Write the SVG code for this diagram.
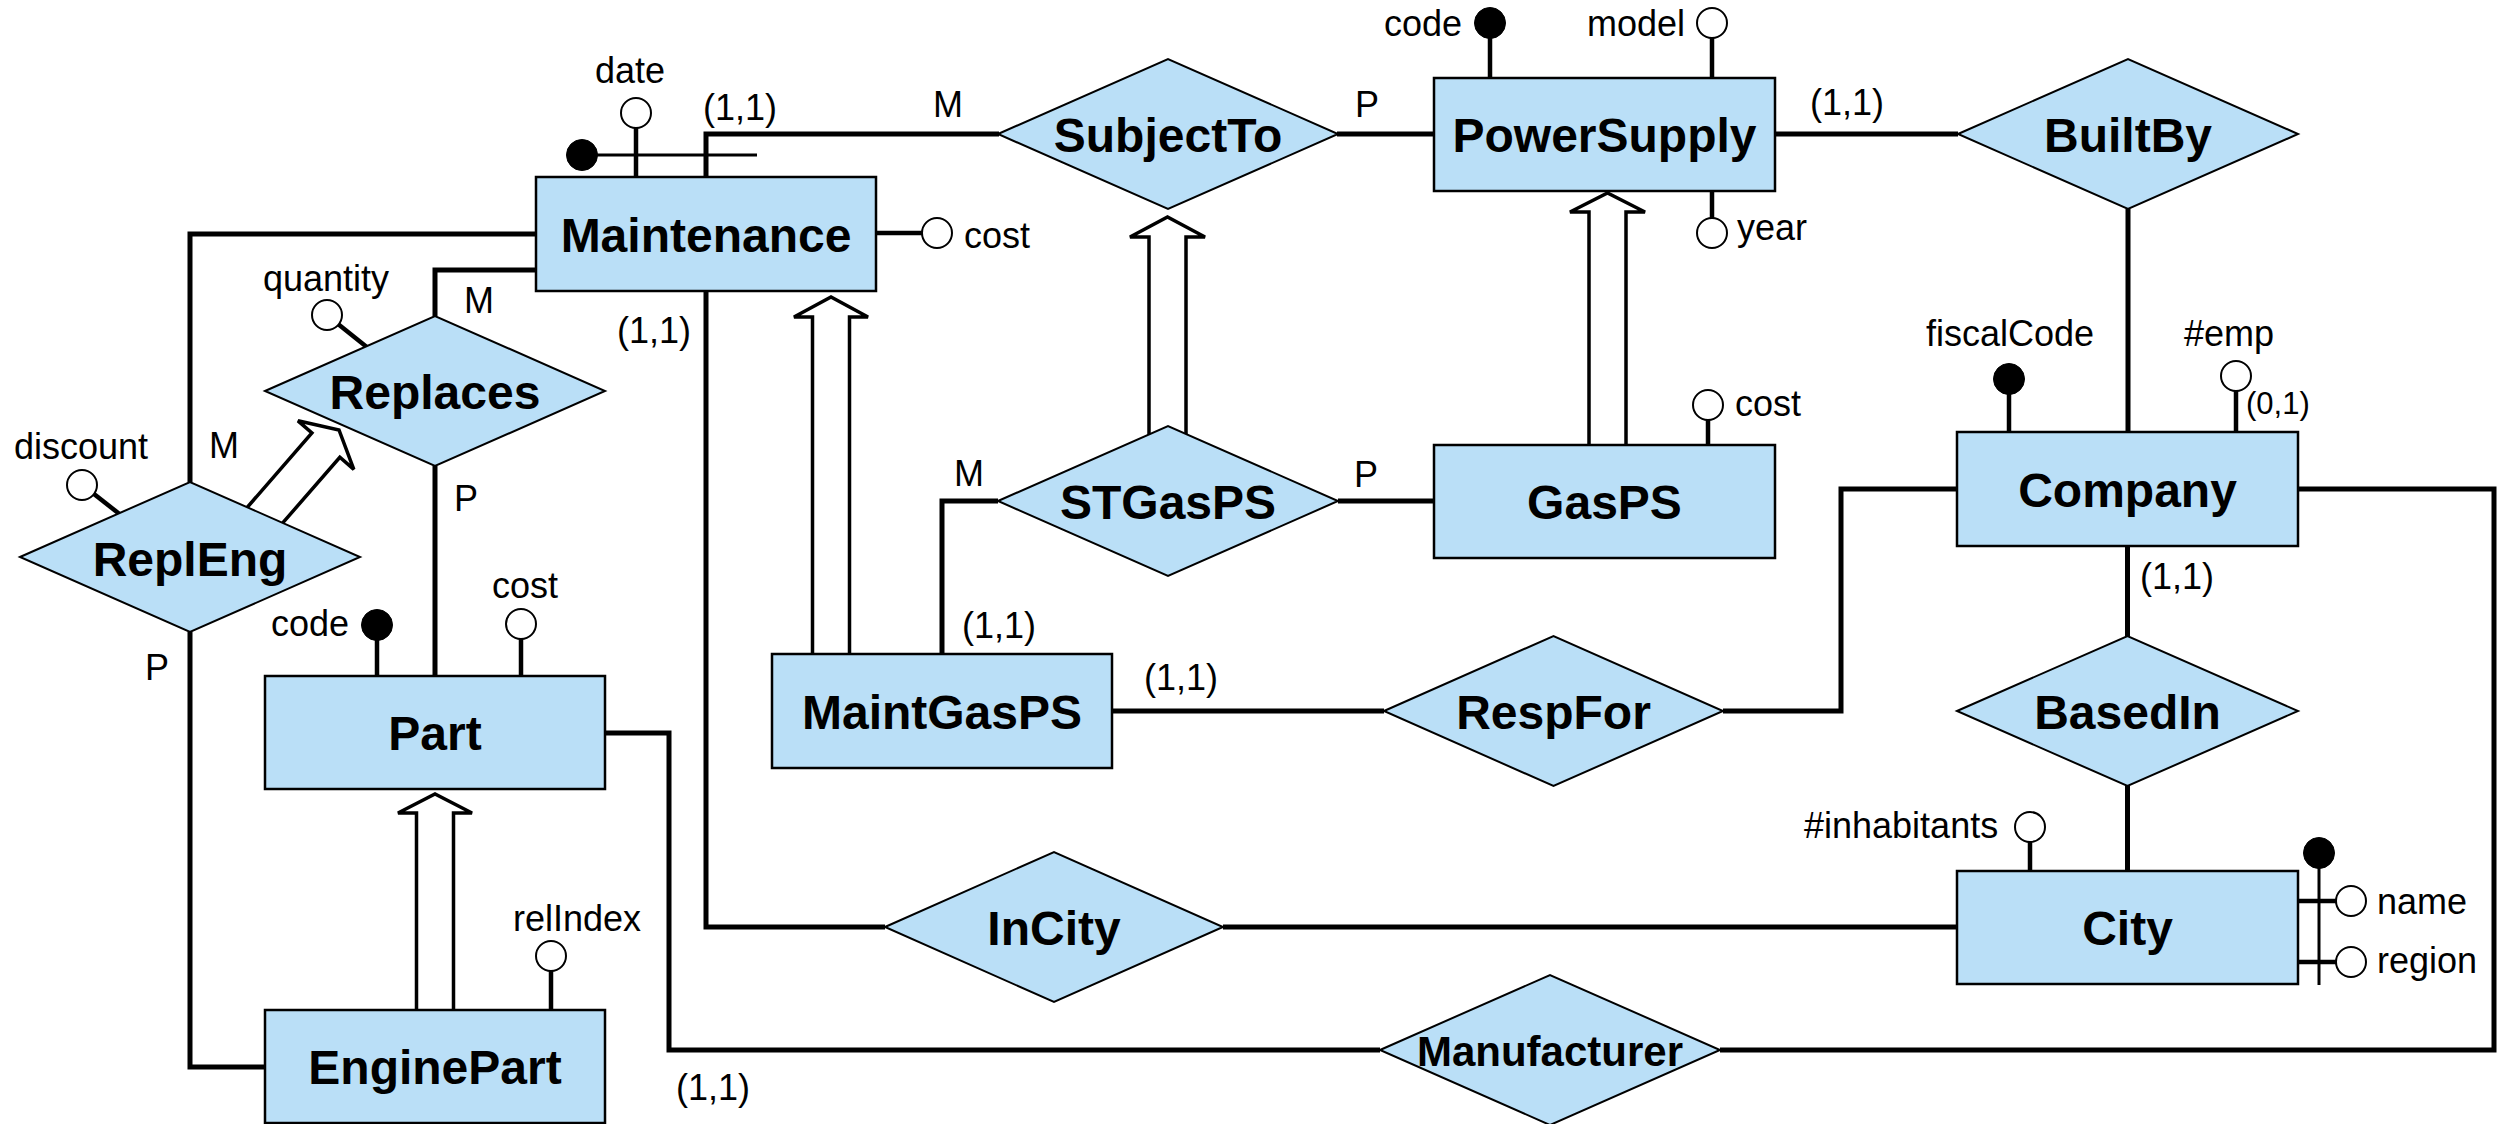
<svg xmlns="http://www.w3.org/2000/svg" width="2501" height="1124" viewBox="0 0 2501 1124">
<style>
.ent{fill:#BADFF7;stroke:#000;stroke-width:2.5}
.rel{fill:#BADFF7;stroke:#000;stroke-width:2}
.nm{font-family:"Liberation Sans",Arial,sans-serif;font-weight:bold;font-size:48px;text-anchor:middle;fill:#000}
.lb{font-family:"Liberation Sans",Arial,sans-serif;font-size:36px;fill:#000}
.conn{fill:none;stroke:#000;stroke-width:5}
.stem{fill:none;stroke:#000;stroke-width:4.5}
.thin{fill:none;stroke:#000;stroke-width:3}
.oc{fill:#fff;stroke:#000;stroke-width:2}
.fc{fill:#000;stroke:#000;stroke-width:1}
.isa{fill:none;stroke:#000;stroke-width:3.5;stroke-linejoin:miter}
</style>
<rect x="0" y="0" width="2501" height="1124" fill="#fff"/>
<g id="connectors">
<polyline class="conn" points="706,177 706,134 999,134"/>
<polyline class="conn" points="1337,134 1434,134"/>
<polyline class="conn" points="1775,134 1958,134"/>
<polyline class="conn" points="2128,209 2128,432"/>
<polyline class="conn" points="2127.5,546 2127.5,636"/>
<polyline class="conn" points="2127.5,786 2127.5,871"/>
<polyline class="conn" points="1957,489 1841,489 1841,711 1723,711"/>
<polyline class="conn" points="1384,711 1112,711"/>
<polyline class="conn" points="942,654 942,501 998,501"/>
<polyline class="conn" points="1338,501 1434,501"/>
<polyline class="conn" points="706,291 706,927 885,927"/>
<polyline class="conn" points="1223,927 1957,927"/>
<polyline class="conn" points="605,733 669,733 669,1050 1380,1050"/>
<polyline class="conn" points="1720,1050 2494,1050 2494,489 2298,489"/>
<polyline class="conn" points="536,270 435,270 435,316"/>
<polyline class="conn" points="435,466 435,676"/>
<polyline class="conn" points="536,234 190,234 190,482"/>
<polyline class="conn" points="190,632 190,1067 265,1067"/>
<polyline class="isa" points="812.5,654 812.5,317 794,317 831,297 868,317 849.5,317 849.5,654"/>
<polyline class="isa" points="1149,500 1149,237 1130,237 1167.5,217 1205,237 1186,237 1186,500"/>
<polyline class="isa" points="1589,445 1589,212 1570,212 1607.5,193 1645,212 1626,212 1626,445"/>
<polyline class="isa" points="416.5,1010 416.5,813 398,813 435,794 472,813 453.5,813 453.5,1010"/>
<polyline class="isa" transform="translate(339,430) rotate(41)" points="-18.5,125 -18.5,20 -37,20 0,0 37,20 18.5,20 18.5,125"/>
<text class="lb" x="703" y="120">(1,1)</text>
<text class="lb" x="933" y="117">M</text>
<text class="lb" x="1355" y="117">P</text>
<text class="lb" x="1810" y="115">(1,1)</text>
<text class="lb" x="617" y="343">(1,1)</text>
<text class="lb" x="464" y="313">M</text>
<text class="lb" x="209" y="458">M</text>
<text class="lb" x="454" y="511">P</text>
<text class="lb" x="145" y="680">P</text>
<text class="lb" x="954" y="486">M</text>
<text class="lb" x="1354" y="487">P</text>
<text class="lb" x="962" y="638">(1,1)</text>
<text class="lb" x="1144" y="690">(1,1)</text>
<text class="lb" x="2140" y="589">(1,1)</text>
<text class="lb" x="676" y="1100">(1,1)</text>
</g>
<g id="Maintenance">
<line class="stem" x1="636" y1="128" x2="636" y2="177"/>
<line class="thin" x1="582" y1="155" x2="757" y2="155"/>
<line class="stem" x1="876" y1="233" x2="922" y2="233"/>
<rect class="ent" x="536" y="177" width="340" height="114"/>
<text class="nm" x="706" y="252">Maintenance</text>
<circle class="fc" cx="582" cy="155" r="15.5"/>
<circle class="oc" cx="636" cy="113" r="15"/>
<circle class="oc" cx="937" cy="233" r="15"/>
<text class="lb" x="595" y="83">date</text>
<text class="lb" x="964" y="248">cost</text>
</g>
<g id="SubjectTo">
<polygon class="rel" points="998,134 1168,59 1338,134 1168,209"/>
<text class="nm" x="1168" y="152">SubjectTo</text>
</g>
<g id="PowerSupply">
<line class="stem" x1="1490" y1="38" x2="1490" y2="78"/>
<line class="stem" x1="1712" y1="38" x2="1712" y2="78"/>
<line class="stem" x1="1712" y1="191" x2="1712" y2="218"/>
<rect class="ent" x="1434" y="78" width="341" height="113"/>
<text class="nm" x="1604.5" y="152">PowerSupply</text>
<circle class="fc" cx="1490" cy="23" r="15.5"/>
<circle class="oc" cx="1712" cy="23" r="15"/>
<circle class="oc" cx="1712" cy="233" r="15"/>
<text class="lb" x="1384" y="36">code</text>
<text class="lb" x="1587" y="36">model</text>
<text class="lb" x="1737" y="240">year</text>
</g>
<g id="BuiltBy">
<polygon class="rel" points="1958,134 2128,59 2298,134 2128,209"/>
<text class="nm" x="2128" y="152">BuiltBy</text>
</g>
<g id="Replaces">
<line class="stem" x1="338" y1="324" x2="368" y2="348"/>
<polygon class="rel" points="265,391 435,316 605,391 435,466"/>
<text class="nm" x="435" y="409">Replaces</text>
<circle class="oc" cx="327" cy="315" r="15"/>
<text class="lb" x="263" y="291">quantity</text>
</g>
<g id="ReplEng">
<line class="stem" x1="94" y1="494" x2="122" y2="516"/>
<polygon class="rel" points="20,557 190,482 360,557 190,632"/>
<text class="nm" x="190" y="576">ReplEng</text>
<circle class="oc" cx="82" cy="485" r="15"/>
<text class="lb" x="14" y="459">discount</text>
</g>
<g id="Part">
<line class="stem" x1="377" y1="640" x2="377" y2="676"/>
<line class="stem" x1="521" y1="639" x2="521" y2="676"/>
<rect class="ent" x="265" y="676" width="340" height="113"/>
<text class="nm" x="435" y="750">Part</text>
<circle class="fc" cx="377" cy="625" r="15.5"/>
<circle class="oc" cx="521" cy="624" r="15"/>
<text class="lb" x="271" y="636">code</text>
<text class="lb" x="492" y="598">cost</text>
</g>
<g id="EnginePart">
<line class="stem" x1="551" y1="971" x2="551" y2="1010"/>
<rect class="ent" x="265" y="1010" width="340" height="113"/>
<text class="nm" x="435" y="1084">EnginePart</text>
<circle class="oc" cx="551" cy="956" r="15"/>
<text class="lb" x="513" y="931">relIndex</text>
</g>
<g id="STGasPS">
<polygon class="rel" points="998,501 1168,426 1338,501 1168,576"/>
<text class="nm" x="1168" y="519">STGasPS</text>
</g>
<g id="GasPS">
<line class="stem" x1="1708" y1="420" x2="1708" y2="445"/>
<rect class="ent" x="1434" y="445" width="341" height="113"/>
<text class="nm" x="1604.5" y="519">GasPS</text>
<circle class="oc" cx="1708" cy="405" r="15"/>
<text class="lb" x="1735" y="416">cost</text>
</g>
<g id="MaintGasPS">
<rect class="ent" x="772" y="654" width="340" height="114"/>
<text class="nm" x="942" y="729">MaintGasPS</text>
</g>
<g id="RespFor">
<polygon class="rel" points="1384,711 1553.5,636 1723,711 1553.5,786"/>
<text class="nm" x="1553.5" y="729">RespFor</text>
</g>
<g id="Company">
<line class="stem" x1="2009" y1="394" x2="2009" y2="432"/>
<line class="stem" x1="2236" y1="391" x2="2236" y2="432"/>
<rect class="ent" x="1957" y="432" width="341" height="114"/>
<text class="nm" x="2127.5" y="507">Company</text>
<circle class="fc" cx="2009" cy="379" r="15.5"/>
<circle class="oc" cx="2236" cy="376" r="15"/>
<text class="lb" x="1926" y="346">fiscalCode</text>
<text class="lb" x="2184" y="346">#emp</text>
<text class="lb" x="2246" y="414" style="font-size:31px">(0,1)</text>
</g>
<g id="BasedIn">
<polygon class="rel" points="1957,711 2127.5,636 2298,711 2127.5,786"/>
<text class="nm" x="2127.5" y="729">BasedIn</text>
</g>
<g id="City">
<line class="stem" x1="2030" y1="842" x2="2030" y2="871"/>
<line class="stem" x1="2298" y1="901" x2="2336" y2="901"/>
<line class="stem" x1="2298" y1="962" x2="2336" y2="962"/>
<line class="thin" x1="2319" y1="854" x2="2319" y2="985"/>
<rect class="ent" x="1957" y="871" width="341" height="113"/>
<text class="nm" x="2127.5" y="945">City</text>
<circle class="oc" cx="2030" cy="827" r="15"/>
<circle class="fc" cx="2319" cy="853" r="15.5"/>
<circle class="oc" cx="2351" cy="901" r="15"/>
<circle class="oc" cx="2351" cy="962" r="15"/>
<text class="lb" x="1804" y="838">#inhabitants</text>
<text class="lb" x="2377" y="914">name</text>
<text class="lb" x="2377" y="973">region</text>
</g>
<g id="InCity">
<polygon class="rel" points="885,927 1054,852 1223,927 1054,1002"/>
<text class="nm" x="1054" y="945">InCity</text>
</g>
<g id="Manufacturer">
<polygon class="rel" points="1380,1050 1550,975 1720,1050 1550,1125"/>
<text class="nm" x="1550" y="1066" style="font-size:42px">Manufacturer</text>
</g>
</svg>
